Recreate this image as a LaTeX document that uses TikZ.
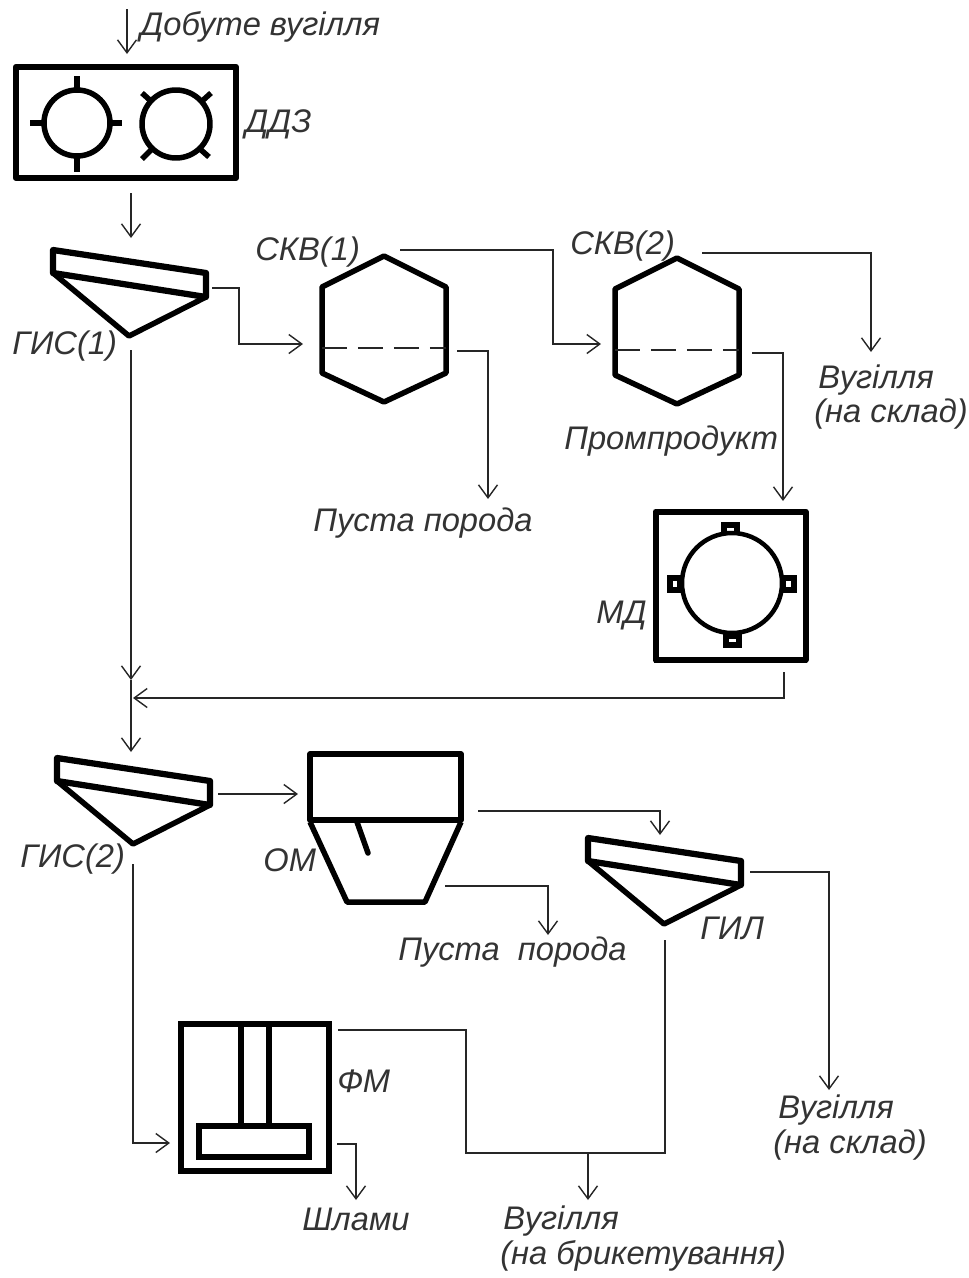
\documentclass[tikz,border=0pt]{standalone}
\usepackage{fontspec}
\setmainfont{Liberation Sans}
\usetikzlibrary{arrows.meta}
\tikzset{
  unit/.style={line width=0.11cm, line join=round},
  flow/.style={line width=0.028cm, draw=black!85},
  flowto/.style={flow, -{Straight Barb[length=0.26cm, width=0.38cm, line width=0.028cm]}},
  label/.style={anchor=base west, inner sep=0pt, font=\fontsize{18.6}{20}\selectfont\itshape, text=black!80},
  gisscreen/.pic={
    \draw[unit, line width=0.125cm] (0,0) -- (153,23) -- (153,47) -- (0,23) -- cycle;
    \draw[unit] (0,23) -- (76,86) -- (153,47);
  },
  hexcell/.pic={
    \draw[unit] (0,-92) -- (62,-61) -- (62,25) -- (0,54) -- (-62,25) -- (-62,-61) -- cycle;
    \draw[flow, dash pattern=on 0.5cm off 0.22cm] (-62,0) -- (62,0);
  }
}
\begin{document}
\begin{tikzpicture}[x=0.02cm, y=-0.02cm]
  \useasboundingbox (0,0) rectangle (968,1278);

  % Crusher
  \draw[unit, line width=0.125cm] (16,67) rectangle (236,178);
  \draw[unit] (77,123) circle (33);
  \draw[unit] (77,76) -- (77,90) (77,156) -- (77,172) (30,123) -- (44,123) (110,123) -- (122,123);
  \draw[unit] (176,124) circle (34);
  \draw[unit] (142,93) -- (152,102) (211,93) -- (201,102) (142,159) -- (152,149) (209,157) -- (200,149);

  % Screens
  \pic at (53,250) {gisscreen};
  \pic at (57,758) {gisscreen};
  \pic at (588,838) {gisscreen};

  % Separators
  \pic at (384,348) {hexcell};
  \pic at (677,350) {hexcell};

  % Magnetic drum
  \draw[unit, line width=0.12cm] (655.5,511.5) rectangle (805.5,660);
  \draw[line width=0.07cm] (654,661) -- (807,661);
  \draw[line width=0.12cm, fill=white] (724,525) rectangle (737,536);
  \draw[line width=0.12cm, fill=white] (726,636) rectangle (739,645);
  \draw[line width=0.12cm, fill=white] (670,578) rectangle (680,590);
  \draw[line width=0.12cm, fill=white] (783,578) rectangle (794,590);
  \draw[line width=0.09cm, fill=white] (732,583) circle (50);

  % Flotation cell
  \draw[unit] (310,754) rectangle (461,820);
  \draw[unit] (310,822) -- (347,902) -- (425,902) -- (461,822);
  \draw[unit, line cap=round] (357,822) -- (368,853);

  % Filter
  \draw[line width=0.125cm] (181,1024) rectangle (329,1171);
  \draw[line width=0.11cm] (241,1024) -- (241,1125) (269,1024) -- (269,1125);
  \draw[line width=0.11cm, fill=white] (199,1126) rectangle (309,1157);

  % Ports
  \coordinate (coalin) at (127,9);
  \coordinate (ddzin) at (127,54);
  \coordinate (ddzout) at (131,193);
  \coordinate (gis1in) at (131,238);
  \coordinate (gis1side) at (212,288);
  \coordinate (gis1down) at (131,350);
  \coordinate (skv1in) at (303,344);
  \coordinate (skv1top) at (400,250);
  \coordinate (skv1low) at (457,351);
  \coordinate (skv2in) at (601,344);
  \coordinate (skv2top) at (702,253);
  \coordinate (skv2low) at (752,353);
  \coordinate (waste1) at (488,499);
  \coordinate (coalout1) at (871,352);
  \coordinate (mdin) at (783,501);
  \coordinate (mdout) at (784,672);
  \coordinate (merge) at (133,698);
  \coordinate (midhead) at (131,680);
  \coordinate (gis2in) at (131,752);
  \coordinate (gis2side) at (218,794);
  \coordinate (omin) at (298,794);
  \coordinate (gis2down) at (133,864);
  \coordinate (fmin) at (170,1143);
  \coordinate (omtop) at (478,811);
  \coordinate (gilin) at (660,835);
  \coordinate (omlow) at (445,886);
  \coordinate (waste2) at (548,935);
  \coordinate (gilside) at (750,872);
  \coordinate (coalout2) at (829,1090);
  \coordinate (gildown) at (665,940);
  \coordinate (fmtop) at (338,1030);
  \coordinate (fmjoin) at (466,1153);
  \coordinate (brjoin) at (588,1153);
  \coordinate (brout) at (588,1200);
  \coordinate (fmlow) at (337,1144);
  \coordinate (slurry) at (356,1200);

  % Flows
  \draw[flowto] (coalin) -- (ddzin);
  \draw[flowto] (ddzout) -- (gis1in);
  \draw[flowto] (gis1side) -- (239,288) |- (skv1in);
  \draw[flowto] (gis1down) -- (midhead);
  \draw[flowto] (midhead) -- (gis2in);
  \draw[flowto] (skv1top) -| (553,344) -- (skv2in);
  \draw[flowto] (skv1low) -| (waste1);
  \draw[flowto] (skv2top) -| (coalout1);
  \draw[flowto] (skv2low) -| (mdin);
  \draw[flowto] (mdout) |- (merge);
  \draw[flowto] (gis2side) -- (omin);
  \draw[flowto] (gis2down) |- (fmin);
  \draw[flowto] (omtop) -| (gilin);
  \draw[flowto] (omlow) -| (waste2);
  \draw[flowto] (gilside) -| (coalout2);
  \draw[flow] (fmtop) -| (fmjoin) -- (brjoin);
  \draw[flow] (gildown) |- (brjoin);
  \draw[flowto] (brjoin) -- (brout);
  \draw[flowto] (fmlow) -| (slurry);

  % Labels
  \node[label] (coal) at (140,35) {Добуте вугілля};
  \node[label] (ddz) at (245,132) {ДДЗ};
  \node[label] (skv1) at (255,260) {СКВ(1)};
  \node[label] (gis1) at (12,354) {ГИС(1)};
  \node[label] (skv2) at (570,254) {СКВ(2)};
  \node[label] (coal1a) at (818,388) {Вугілля};
  \node[label] (coal1b) at (814,422) {(на склад)};
  \node[label] (middlings) at (564,449) {Промпродукт};
  \node[label] (rock1) at (313,531) {Пуста порода};
  \node[label] (md) at (596,623) {МД};
  \node[label] (gis2) at (20,867) {ГИС(2)};
  \node[label] (om) at (263,871) {ОМ};
  \node[label] (rock2) at (398,960) {Пуста\ \ порода};
  \node[label] (gil) at (700,939) {ГИЛ};
  \node[label] (fm) at (337,1092) {ФМ};
  \node[label] (coal2a) at (778,1118) {Вугілля};
  \node[label] (coal2b) at (773,1153) {(на склад)};
  \node[label] (sludge) at (302,1230) {Шлами};
  \node[label] (coal3a) at (503,1229) {Вугілля};
  \node[label] (coal3b) at (500,1264) {(на брикетування)};
\end{tikzpicture}
\end{document}
